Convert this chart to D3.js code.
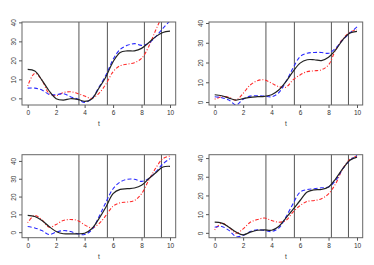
<!DOCTYPE html>
<html>
<head>
<meta charset="utf-8">
<script src="https://cdn.jsdelivr.net/npm/d3@7"></script>
<style>
  body { margin: 0; background: #fff; }
  svg { display: block; }
  text { font-family: "Liberation Sans", Arial, sans-serif; font-size: 6.5px; fill: #333; }
</style>
</head>
<body>
<div id="chart"></div>
<script>
// grille des temps
const tGrid = [0, 0.5, 1, 1.5, 2, 2.5, 3, 3.5, 4, 4.5, 5, 5.5, 6, 6.5, 7, 7.5, 8, 8.5, 9, 9.5, 10];
const knots = [3.6, 5.6, 8.2, 9.4];
const xTicks = [0, 2, 4, 6, 8, 10];
const yTicks = [0, 10, 20, 30, 40];

// panneau 1 (haut gauche)
const p1Black = [15.3, 14.4, 9.6, 4, -0.2, -0.9, -0.2, -0.5, -1.6, -0.3, 5.3, 11.4, 19.3, 24.2, 25, 25, 26.3, 29.3, 32.5, 34.7, 35.4];
const p1Blue  = [5.4, 5.4, 4.4, 2.1, 1.9, 2.5, 0.9, -0.4, -2.1, -0.2, 5.8, 12.3, 20.5, 25.8, 27.9, 28.8, 27.9, 29, 32.5, 36.8, 40.9];
const p1Red   = [6.5, 13.2, 9.6, 2.6, 1.4, 3, 3.5, 2.6, 1.2, 0, 2.6, 7.5, 14, 17.2, 18, 18.8, 21, 27.2, 36, 44, 50];

// panneau 2 (haut droite)
const p2Black = [3.7, 3.2, 2, 1, 1.7, 2.4, 2.7, 2.9, 3.7, 6.1, 10.3, 15.4, 19.7, 21.4, 21.4, 21, 22.7, 26.4, 31.5, 34.9, 35.8];
const p2Blue  = [2.7, 2.2, 1, -1.5, 1.4, 3, 3.2, 3, 2.7, 4.7, 10.3, 17.1, 23, 24.7, 25.1, 25.1, 24.7, 27.3, 31.5, 34.9, 38];
const p2Red   = [1.4, 2.7, 2.4, 1, 4.4, 8.6, 10.8, 11.2, 9.5, 7.8, 7.5, 11.2, 13.7, 15.4, 15.8, 16.3, 18.8, 26.4, 31.9, 35.3, 36.6];

// panneau 3 (bas gauche)
const p3Black = [9.4, 8.8, 6.6, 3.2, 0.4, -0.9, -0.9, -0.9, -0.6, 1.9, 7.5, 14.1, 21.6, 24, 24.4, 24.8, 26.3, 30, 33.4, 36.6, 37];
const p3Blue  = [3.2, 2.4, 0.9, -1.3, 0, 0.9, 0.4, -0.9, -1.3, 1.3, 8.5, 16.9, 24.4, 28.2, 29.7, 29.7, 28.5, 30, 33.8, 38.3, 41.3];
const p3Red   = [5.3, 9.4, 6.9, 2.8, 4.3, 6.6, 7.1, 6.6, 4.1, 2.4, 4.7, 9.4, 14.6, 16.5, 16.9, 17.8, 21.6, 29.1, 36, 41.3, 42.8];

// panneau 4 (bas droite)
const p4Black = [5.7, 5.2, 3, 0.4, -1.1, 0.4, 1.4, 1.6, 1.4, 3.4, 7.9, 12.5, 17.3, 21.8, 23, 23.2, 24.5, 28.9, 34.3, 38.8, 40.5];
const p4Blue  = [3, 3.4, 1.3, -2, -1.4, 0.7, 1.6, 1.3, 0.7, 2.5, 8.4, 15.5, 21.8, 23.2, 23.6, 24.1, 24.5, 28, 34.3, 38.8, 41.4];
const p4Red   = [1.6, 5.2, 3, -0.2, 2.1, 5.7, 7.1, 7.9, 6.6, 5.7, 6.6, 11.1, 14.6, 16.8, 17.3, 18.2, 20.9, 26.3, 34.3, 39.3, 41.1];

const yDomains = [[-3.5, 40.2], [-1.5, 40.5], [-3.1, 43.5], [-2.6, 41.8]];

const W = 374, H = 265;
const plotW = 153.7, plotH = 83;
const origins = [[22, 22], [209, 22], [22, 154.7], [209, 154.7]];

const panels = [
	{ black: p1Black, blue: p1Blue, red: p1Red },
	{ black: p2Black, blue: p2Blue, red: p2Red },
	{ black: p3Black, blue: p3Blue, red: p3Red },
	{ black: p4Black, blue: p4Blue, red: p4Red }
];

const svg = d3.select('#chart').append('svg')
	.attr('width', W)
	.attr('height', H);

const x = d3.scaleLinear().domain([-0.4, 10.4]).range([0, plotW]);

panels.forEach((p, i) => {
	const [ox, oy] = origins[i];
	const y = d3.scaleLinear().domain(yDomains[i]).range([plotH, 0]);
	const g = svg.append('g').attr('transform', `translate(${ox},${oy})`);

	g.append('clipPath').attr('id', 'clip' + i)
		.append('rect').attr('width', plotW).attr('height', plotH);

	// noeuds verticaux
	g.selectAll('.knot').data(knots).join('line')
		.attr('x1', d => x(d)).attr('x2', d => x(d))
		.attr('y1', 0).attr('y2', plotH)
		.attr('stroke', '#555').attr('stroke-width', 1);

	const line = d3.line()
		.x((d, j) => x(tGrid[j]))
		.y(d => y(d))
		.curve(d3.curveCatmullRom.alpha(0.5));

	const curves = g.append('g').attr('clip-path', `url(#clip${i})`);
	curves.append('path').datum(p.red)
		.attr('fill', 'none').attr('stroke', '#ff2a2a').attr('stroke-width', 1.1)
		.attr('stroke-dasharray', '1,1.8,3.5,1.8').attr('d', line);
	curves.append('path').datum(p.blue)
		.attr('fill', 'none').attr('stroke', '#2a2aff').attr('stroke-width', 1.1)
		.attr('stroke-dasharray', '4,2.3').attr('d', line);
	curves.append('path').datum(p.black)
		.attr('fill', 'none').attr('stroke', '#222').attr('stroke-width', 1.2)
		.attr('d', line);

	// cadre
	g.append('rect').attr('width', plotW).attr('height', plotH)
		.attr('fill', 'none').attr('stroke', '#666').attr('stroke-width', 1);

	// axe x
	const ax = g.append('g').attr('transform', `translate(0,${plotH})`)
		.call(d3.axisBottom(x).tickValues(xTicks).tickSize(3).tickPadding(2.5).tickFormat(d3.format('d')));
	ax.select('.domain').remove();
	ax.selectAll('line').attr('stroke', '#555');
	ax.selectAll('text').attr('fill', '#333').style('font-size', '6.5px').attr('font-family', null);

	// axe y
	const ay = g.append('g')
		.call(d3.axisLeft(y).tickValues(yTicks).tickSize(3).tickFormat(d3.format('d')));
	ay.select('.domain').remove();
	ay.selectAll('line').attr('stroke', '#555');
	ay.selectAll('text')
		.attr('x', null).attr('dy', null)
		.attr('text-anchor', 'middle')
		.attr('transform', 'translate(-6.4,0) rotate(-90)')
		.attr('fill', '#333').style('font-size', '6.5px').attr('font-family', null);

	g.append('text')
		.attr('x', plotW / 2).attr('y', plotH + 21)
		.attr('text-anchor', 'middle')
		.attr('fill', '#333')
		.text('t');
});
</script>
</body>
</html>
